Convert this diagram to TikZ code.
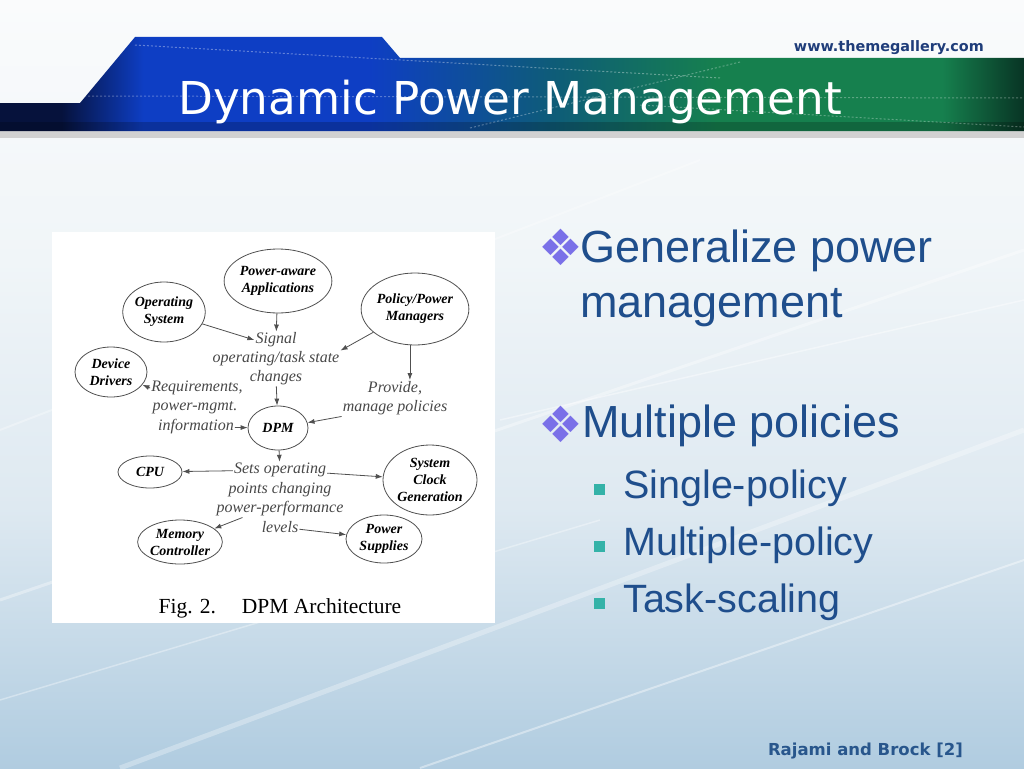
\documentclass[tikz,border=0pt]{standalone}
\usepackage{fontspec}
\setmainfont{Liberation Sans}
\newfontfamily\figfont{Liberation Serif}
\newfontfamily\banfont{DejaVu Sans}
\usetikzlibrary{
    arrows.meta,
    shapes.geometric,
    positioning,
    calc
}

\definecolor{txtblue}{RGB}{31,78,140}
\definecolor{webblue}{RGB}{31,61,122}
\definecolor{refblue}{RGB}{40,86,140}
\definecolor{bulpurple}{RGB}{122,112,232}
\definecolor{bulteal}{RGB}{52,178,168}
\definecolor{edgegray}{RGB}{80,80,80}
\definecolor{notegray}{RGB}{72,72,72}
\definecolor{bgtop}{RGB}{250,251,252}
\definecolor{bghigh}{RGB}{240,245,248}
\definecolor{bgmid}{RGB}{222,233,241}
\definecolor{bgbot}{RGB}{176,204,224}
\definecolor{bandnavy}{RGB}{6,18,60}
\definecolor{bandblue}{RGB}{14,62,196}
\definecolor{bandteal}{RGB}{14,92,120}
\definecolor{bandgreen}{RGB}{22,128,78}
\definecolor{banddark}{RGB}{8,52,36}
\pgfdeclarehorizontalshading{bandshade}{100bp}{color(0bp)=(bandnavy); color(25bp)=(bandnavy); color(28bp)=(bandnavy); color(32bp)=(bandblue); color(43bp)=(bandblue); color(52bp)=(bandteal); color(60bp)=(bandgreen); color(71bp)=(bandgreen); color(75bp)=(banddark); color(100bp)=(banddark)}
\pgfdeclareverticalshading{slideshade}{100bp}{color(0bp)=(bgbot); color(25bp)=(bgbot); color(42bp)=(bgmid); color(58bp)=(bghigh); color(75bp)=(bgtop); color(100bp)=(bgtop)}

\tikzset{
    unit/.style={ellipse, draw=edgegray, line width=0.8pt, fill=white, inner sep=0pt, align=center,
        font=\figfont\fontsize{14}{17}\selectfont\bfseries\itshape},
    note/.style={inner sep=1pt, text=notegray, font=\figfont\fontsize{16}{18}\selectfont\itshape},
    arr/.style={-{Latex[length=7pt,width=5pt]}, draw=edgegray, line width=0.8pt},
    point/.style={anchor=base west, text=txtblue, inner sep=0pt, font=\fontsize{45}{50}\selectfont},
    subpoint/.style={anchor=base west, text=txtblue, inner sep=0pt, font=\fontsize{39.5}{44}\selectfont},
    dmark/.style={text=bulpurple, inner sep=0pt, font=\banfont\fontsize{50}{50}\selectfont},
    smark/.style={fill=bulteal, minimum size=11pt, inner sep=0pt}
}

\begin{document}
\begin{tikzpicture}[x=1pt, y=-1pt]
% slide background
\useasboundingbox (0,0) rectangle (1024,768);
\shade[shading=slideshade] (0,0) rectangle (1024,768);
\foreach \xa/\ya/\xb/\yb/\w/\o in {0/600/1024/250/3/0.35, 120/768/1024/430/5/0.3, 0/430/700/160/2/0.3,
    420/768/1024/560/2/0.4, 0/700/600/520/1.5/0.35, 500/420/1024/300/1.5/0.4}
    \draw[white, line width=\w, opacity=\o] (\xa,\ya) -- (\xb,\yb);

% title band
\fill[black!18] (0,131) rectangle (1024,138);
\shade[shading=bandshade] (0,103) -- (80,103) -- (135,37) -- (382,37) -- (400,58) -- (1024,58)
    -- (1024,131) -- (0,131) -- cycle;
\fill[black, opacity=0.2] (0,122) rectangle (1024,131);
\draw[white, opacity=0.35, dash pattern=on 2pt off 2pt, line width=1pt] (135,45) -- (720,78);
\draw[white, opacity=0.3, dash pattern=on 2pt off 2pt, line width=1pt] (80,96) -- (1024,98);
\draw[white, opacity=0.3, dash pattern=on 2pt off 2pt, line width=1pt] (470,128) -- (740,62);
\draw[white, opacity=0.3, dash pattern=on 2pt off 2pt, line width=1pt] (640,105) -- (1024,127);
\node[anchor=base west, text=white, inner sep=0pt, font=\banfont\fontsize{45.3}{50}\selectfont] (title) at (178,114) {Dynamic Power Management};
\node[anchor=base east, text=webblue, inner sep=0pt, font=\banfont\bfseries\fontsize{14.4}{16}\selectfont] (web) at (984,52) {www.themegallery.com};

% figure
\fill[white] (52,232) rectangle (495,623);
\node[unit, minimum width=104pt, minimum height=64pt] (paa) at (278,281) {Power-aware\\Applications};
\node[unit, minimum width=72pt, minimum height=60pt] (os) at (164,312) {Operating\\System};
\node[unit, minimum width=106pt, minimum height=72pt] (ppm) at (415,309) {Policy/Power\\Managers};
\node[unit, minimum width=72pt, minimum height=50pt] (dd) at (111,372) {Device\\Drivers};
\node[unit, minimum width=60pt, minimum height=44pt] (dpm) at (278,428) {DPM};
\node[unit, minimum width=64pt, minimum height=32pt] (cpu) at (150,472) {CPU};
\node[unit, minimum width=94pt, minimum height=70pt] (scg) at (430,480) {System\\Clock\\Generation};
\node[unit, minimum width=70pt, minimum height=44pt] (mc) at (180,542) {Memory\\Controller};
\node[unit, minimum width=76pt, minimum height=48pt] (ps) at (384,539) {Power\\Supplies};

\node[note] (sig1) at (276,340) {Signal};
\node[note] (sig2) at (276,359) {operating/task state};
\node[note] (sig3) at (276,378) {changes};
\node[note] (req1) at (197,388) {Requirements,};
\node[note] (req2) at (195,408) {power-mgmt.};
\node[note] (req3) at (196,427) {information};
\node[note] (prov1) at (395,388) {Provide,};
\node[note] (prov2) at (395,408) {manage policies};
\node[note] (sets1) at (280,470) {Sets operating};
\node[note] (sets2) at (280,490) {points changing};
\node[note] (sets3) at (280,509) {power-performance};
\node[note] (sets4) at (280,527) {levels};
\node[inner sep=0pt, font=\figfont\fontsize{21.5}{24}\selectfont] (cap) at (280,608) {Fig. 2.\hspace{1.2em}DPM Architecture};

\draw[arr] (paa) -- (sig1);
\draw[arr] (os) -- (sig1.west);
\draw[arr] (ppm) -- (sig2.north east);
\draw[arr] (ppm.262) -- (ppm.262 |- prov1.north);
\draw[arr] (sig3) -- (dpm);
\draw[arr] (prov2.south west) -- (dpm);
\draw[arr] (req1.west) -- (dd);
\draw[arr] (req3) -- (dpm);
\draw[arr] (dpm) -- (sets1);
\draw[arr] (sets1) -- (cpu);
\draw[arr] (sets1) -- (scg);
\draw[arr] ([xshift=27pt]sets3.south west) -- (mc);
\draw[arr] (sets4) -- (ps);

% bullet text
\node[dmark] (b1) at (561,247) {❖};
\node[point] (gen) at (580,262) {Generalize power};
\node[point] (mgmt) at (580,317) {management};
\node[dmark] (b2) at (561,424) {❖};
\node[point] (mult) at (582,437) {Multiple policies};
\node[smark] (s1) at (599,489) {};
\node[subpoint] (single) at (623,498) {Single-policy};
\node[smark] (s2) at (599,546) {};
\node[subpoint] (multi) at (623,555) {Multiple-policy};
\node[smark] (s3) at (599,603) {};
\node[subpoint] (task) at (623,612) {Task-scaling};

\node[anchor=base east, text=refblue, inner sep=0pt, font=\banfont\bfseries\fontsize{16.5}{18}\selectfont] (ref) at (963,755) {Rajami and Brock [2]};
\end{tikzpicture}
\end{document}
